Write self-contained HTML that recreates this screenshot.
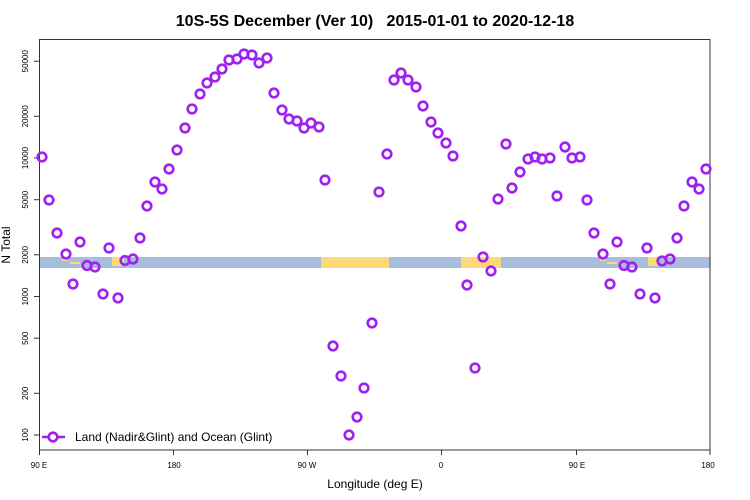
<!DOCTYPE html>
<html><head><meta charset="utf-8"><style>
body{margin:0;background:#fff}
svg{display:block;font-family:"Liberation Sans",sans-serif}
</style></head><body>
<svg width="750" height="500" xmlns="http://www.w3.org/2000/svg">
<rect width="750" height="500" fill="#fff"/>
<text x="375" y="26" text-anchor="middle" font-size="16" font-weight="bold">10S-5S December (Ver 10)&#160;&#160; 2015-01-01 to 2020-12-18</text>
<!-- band -->
<rect x="40" y="257" width="670" height="11" fill="#a6bddb"/>
<g fill="#fdd978">
<rect x="112" y="257" width="12" height="9"/>
<rect x="321" y="257" width="68" height="11"/>
<rect x="461" y="257" width="40" height="11"/>
<rect x="648" y="257" width="10" height="9"/>
<rect x="62" y="259" width="6" height="2"/><rect x="70" y="262" width="10" height="2"/>
<rect x="600" y="259" width="6" height="2"/><rect x="607" y="262" width="10" height="2"/>
</g>
<!-- frame -->
<rect x="39.5" y="39.5" width="670.5" height="410.5" fill="none" stroke="#333" stroke-width="1"/>
<g stroke="#333">
<line x1="34" y1="435" x2="39" y2="435"/><line x1="34" y1="393.3" x2="39" y2="393.3"/>
<line x1="34" y1="338.2" x2="39" y2="338.2"/><line x1="34" y1="296.5" x2="39" y2="296.5"/>
<line x1="34" y1="254.8" x2="39" y2="254.8"/><line x1="34" y1="199.7" x2="39" y2="199.7"/>
<line x1="34" y1="158" x2="39" y2="158"/><line x1="34" y1="116.3" x2="39" y2="116.3"/>
<line x1="34" y1="61.2" x2="39" y2="61.2"/>
<line x1="39.5" y1="450" x2="39.5" y2="455"/><line x1="173.5" y1="450" x2="173.5" y2="455"/>
<line x1="307.5" y1="450" x2="307.5" y2="455"/><line x1="441.5" y1="450" x2="441.5" y2="455"/>
<line x1="576.5" y1="450" x2="576.5" y2="455"/><line x1="710" y1="450" x2="710" y2="455"/>
</g>
<g font-size="8" text-anchor="middle">
<text transform="translate(28,435) rotate(-90)">100</text>
<text transform="translate(28,393.3) rotate(-90)">200</text>
<text transform="translate(28,338.2) rotate(-90)">500</text>
<text transform="translate(28,296.5) rotate(-90)">1000</text>
<text transform="translate(28,254.8) rotate(-90)">2000</text>
<text transform="translate(28,199.7) rotate(-90)">5000</text>
<text transform="translate(28,158) rotate(-90)">10000</text>
<text transform="translate(28,116.3) rotate(-90)">20000</text>
<text transform="translate(28,61.2) rotate(-90)">50000</text>
<text x="39" y="468">90 E</text><text x="174" y="468">180</text><text x="307" y="468">90 W</text>
<text x="441" y="468">0</text><text x="577" y="468">90 E</text><text x="708" y="468">180</text>
</g>
<text x="375" y="488" text-anchor="middle" font-size="12">Longitude (deg E)</text>
<text transform="translate(10,245) rotate(-90)" text-anchor="middle" font-size="12">N Total</text>
<!-- legend -->
<line x1="42" y1="437" x2="65" y2="437" stroke="#a020f0" stroke-width="2.5"/>
<circle cx="53" cy="437" r="4.3" fill="#fff" stroke="#a020f0" stroke-width="2.6"/>
<text x="75" y="441" font-size="12">Land (Nadir&amp;Glint) and Ocean (Glint)</text>
<g fill="none" stroke="#a020f0" stroke-width="2.6">
<circle cx="42" cy="157" r="4.3"/><circle cx="49" cy="200" r="4.3"/><circle cx="57" cy="233" r="4.3"/>
<circle cx="66" cy="254" r="4.3"/><circle cx="73" cy="284" r="4.3"/><circle cx="80" cy="242" r="4.3"/>
<circle cx="87" cy="265.5" r="4.3"/><circle cx="95" cy="267" r="4.3"/><circle cx="103" cy="294" r="4.3"/>
<circle cx="109" cy="248" r="4.3"/><circle cx="118" cy="298" r="4.3"/><circle cx="125" cy="260.5" r="4.3"/>
<circle cx="133" cy="259" r="4.3"/><circle cx="140" cy="238" r="4.3"/><circle cx="147" cy="206" r="4.3"/>
<circle cx="155" cy="182" r="4.3"/><circle cx="162" cy="189" r="4.3"/><circle cx="169" cy="169" r="4.3"/>
<circle cx="177" cy="150" r="4.3"/><circle cx="185" cy="128" r="4.3"/><circle cx="192" cy="109" r="4.3"/>
<circle cx="200" cy="94" r="4.3"/><circle cx="207" cy="83" r="4.3"/><circle cx="215" cy="77" r="4.3"/>
<circle cx="222" cy="69" r="4.3"/><circle cx="229" cy="60" r="4.3"/><circle cx="237" cy="59" r="4.3"/>
<circle cx="244" cy="54" r="4.3"/><circle cx="252" cy="55" r="4.3"/><circle cx="259" cy="63" r="4.3"/>
<circle cx="267" cy="58" r="4.3"/><circle cx="274" cy="93" r="4.3"/><circle cx="282" cy="110" r="4.3"/>
<circle cx="289" cy="119" r="4.3"/><circle cx="297" cy="121" r="4.3"/><circle cx="304" cy="128" r="4.3"/>
<circle cx="311" cy="123" r="4.3"/><circle cx="319" cy="127" r="4.3"/><circle cx="325" cy="180" r="4.3"/>
<circle cx="333" cy="346" r="4.3"/><circle cx="341" cy="376" r="4.3"/><circle cx="349" cy="435" r="4.3"/>
<circle cx="357" cy="417" r="4.3"/><circle cx="364" cy="388" r="4.3"/><circle cx="372" cy="323" r="4.3"/>
<circle cx="379" cy="192" r="4.3"/><circle cx="387" cy="154" r="4.3"/><circle cx="394" cy="80" r="4.3"/>
<circle cx="401" cy="73" r="4.3"/><circle cx="408" cy="80" r="4.3"/><circle cx="416" cy="87" r="4.3"/>
<circle cx="423" cy="106" r="4.3"/><circle cx="431" cy="122" r="4.3"/><circle cx="438" cy="133" r="4.3"/>
<circle cx="446" cy="143" r="4.3"/><circle cx="453" cy="156" r="4.3"/><circle cx="461" cy="226" r="4.3"/>
<circle cx="467" cy="285" r="4.3"/><circle cx="475" cy="368" r="4.3"/><circle cx="483" cy="257" r="4.3"/>
<circle cx="491" cy="271" r="4.3"/><circle cx="498" cy="199" r="4.3"/><circle cx="506" cy="144" r="4.3"/>
<circle cx="512" cy="188" r="4.3"/><circle cx="520" cy="172" r="4.3"/><circle cx="528" cy="159" r="4.3"/>
<circle cx="535" cy="157" r="4.3"/><circle cx="542" cy="159" r="4.3"/><circle cx="550" cy="158" r="4.3"/>
<circle cx="557" cy="196" r="4.3"/><circle cx="565" cy="147" r="4.3"/><circle cx="572" cy="158" r="4.3"/>
<circle cx="580" cy="157" r="4.3"/><circle cx="587" cy="200" r="4.3"/><circle cx="594" cy="233" r="4.3"/>
<circle cx="603" cy="254" r="4.3"/><circle cx="610" cy="284" r="4.3"/><circle cx="617" cy="242" r="4.3"/>
<circle cx="624" cy="265.5" r="4.3"/><circle cx="632" cy="267" r="4.3"/><circle cx="640" cy="294" r="4.3"/>
<circle cx="647" cy="248" r="4.3"/><circle cx="655" cy="298" r="4.3"/><circle cx="662" cy="261" r="4.3"/>
<circle cx="670" cy="259" r="4.3"/><circle cx="677" cy="238" r="4.3"/><circle cx="684" cy="206" r="4.3"/>
<circle cx="692" cy="182" r="4.3"/><circle cx="699" cy="189" r="4.3"/><circle cx="706" cy="169" r="4.3"/>
</g>
</svg>
</body></html>
